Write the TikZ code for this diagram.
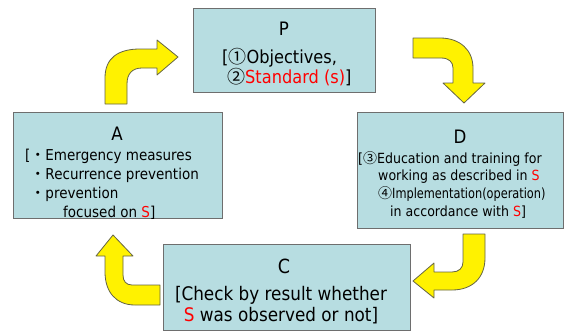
\documentclass[tikz,border=0pt]{standalone}
\usepackage{fontspec}
\setmainfont{DejaVu Sans}[FakeStretch=0.9]
\newfontfamily\cjk{Noto Sans CJK JP}
\definecolor{BoxFill}{RGB}{183,221,225}
\definecolor{BoxLine}{RGB}{110,110,110}
\definecolor{TurnLine}{RGB}{100,100,70}
\newcommand{\Sred}[1]{\textcolor{red}{#1}}
\newcommand{\dotmark}{{\cjk ・}}
\newcommand{\circnum}[1]{{\cjk #1}}
\newcommand{\topline}{\rule{0pt}{1em}}

\begin{document}
\begin{tikzpicture}[x=1pt, y=-1pt,
    box/.style={draw=BoxLine, fill=BoxFill, line width=1pt, inner sep=0pt},
    head/.style={font=\fontsize{18.5}{18.5}\selectfont, anchor=base, inner sep=0pt},
    body/.style={anchor=north west, align=left, inner sep=0pt},
    turn/.style={fill=yellow, draw=TurnLine, line width=0.8pt, line join=round}]
    \useasboundingbox (0,0) rectangle (566,335);

    % 四个方框
    \node[box, minimum width=182pt, minimum height=84pt] (Pbox) at (284,50) {};
    \node[box, minimum width=206pt, minimum height=116pt] (Dbox) at (460,170) {};
    \node[box, minimum width=247pt, minimum height=86pt] (Cbox) at (286.5,287) {};
    \node[box, minimum width=209pt, minimum height=106pt] (Abox) at (117.5,165) {};

    % 标题
    \node[head] (Phead) at (284,35) {P};
    \node[head] (Dhead) at (460,143) {D};
    \node[head, font=\fontsize{19.5}{19.5}\selectfont] (Chead) at (284,273) {C};
    \node[head] (Ahead) at (117,140) {A};

    % 方框内文字
    \node[body, font=\fontsize{18}{20}\selectfont] (Ptext) at (222,45)
        {\topline[\circnum{①}Objectives,\\\hspace*{5pt}\circnum{②}\Sred{Standard (s)}]};
    \node[body, font=\fontsize{14}{17.7}\selectfont] (Dtext) at (358,149)
        {\topline[\circnum{③}Education and training for\\
         \hspace*{20pt}working as described in \Sred{S}\\
         \hspace*{20pt}\circnum{④}\scalebox{0.9}[1]{Implementation(operation)}\\
         \hspace*{32pt}in accordance with \Sred{S}]};
    \node[body, align=center, anchor=north, font=\fontsize{18.7}{21}\selectfont] (Ctext) at (281,281.3)
        {\topline[Check by result whether\\\Sred{S} was observed or not]};
    \node[body, font=\fontsize{15}{19}\selectfont] (Atext) at (25,145)
        {\topline[\dotmark Emergency measures\\
         \hspace*{5.3pt}\dotmark Recurrence prevention\\
         \hspace*{5.3pt}\dotmark prevention\\
         \hspace*{38pt}focused on \Sred{S}]};

    % 黄色弯箭头 A -> P
    \draw[turn] (105,104) -- (105,78) .. controls (105,58) and (118,49) .. (140,49)
        -- (157,49) -- (157,40) -- (178,57) -- (157,75) -- (157,68) -- (142,68)
        .. controls (132,68) and (127,74) .. (127,84) -- (127,104) -- cycle;
    % P -> D
    \draw[turn] (413,38) -- (440,38) .. controls (460,38) and (473,50) .. (473,68)
        -- (473,83) -- (485,83) -- (464,103) -- (443,83) -- (453,83) -- (453,68)
        .. controls (453,62) and (449,58) .. (441,58) -- (413,58) -- cycle;
    % D -> C
    \draw[turn] (463,234) -- (485,234) -- (485,258) .. controls (485,278) and (472,290) .. (452,290)
        -- (434,290) -- (434,298) -- (413,281) -- (434,263) -- (434,272) -- (452,272)
        .. controls (459,272) and (463,268) .. (463,262) -- cycle;
    % C -> A
    \draw[turn] (160,285) -- (132,285) .. controls (126,285) and (123,281) .. (123,275)
        -- (123,256) -- (133,256) -- (113,235) -- (96,256) -- (105,256) -- (105,272)
        .. controls (105,292) and (116,305) .. (135,305) -- (160,305) -- cycle;
\end{tikzpicture}
\end{document}
